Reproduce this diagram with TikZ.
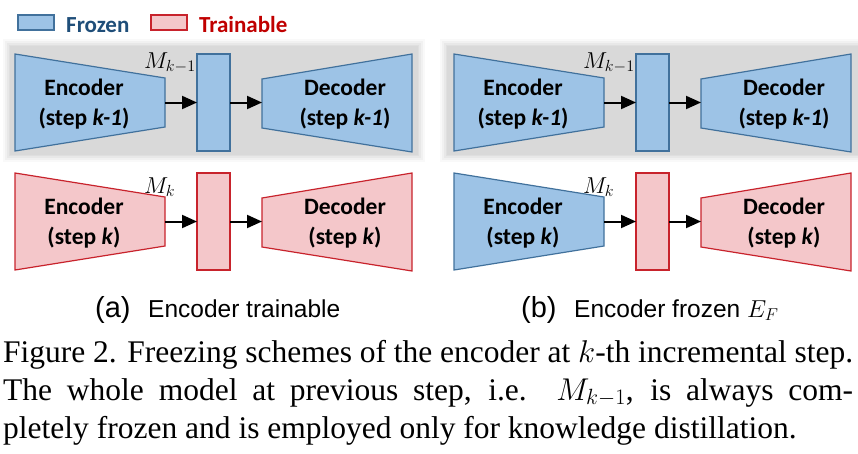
\RequirePackage{fix-cm}
\documentclass[tikz,border=0pt]{standalone}
\usepackage{fontspec}
\setmainfont{Liberation Serif}
\newfontfamily\calibri{Carlito}
\newfontfamily\helv{Liberation Sans}
\usetikzlibrary{arrows.meta}
\definecolor{frzfill}{HTML}{9DC3E6}
\definecolor{frzline}{HTML}{41719C}
\definecolor{trnfill}{HTML}{F4C7CA}
\definecolor{trnline}{HTML}{C8232C}
\definecolor{frztext}{HTML}{1F4E79}
\definecolor{trntext}{HTML}{C00000}
\definecolor{panelgray}{HTML}{D9D9D9}

\begin{document}
\begin{tikzpicture}[x=1pt,y=-1pt,
    frozen/.style={draw=frzline,fill=frzfill,line width=1.2pt},
    trainable/.style={draw=trnline,fill=trnfill,line width=1.2pt},
    midbox/.style={minimum width=33pt,minimum height=97pt,inner sep=0pt,outer sep=0pt,anchor=north west},
    keybox/.style={minimum width=36pt,minimum height=15pt,inner sep=0pt},
    feat/.style={line width=2pt,-{Triangle[length=15pt,width=13pt]}},
    blocktext/.style={font=\calibri\bfseries\fontsize{23.5}{30}\selectfont,align=center,inner sep=0pt},
    keytext/.style={font=\calibri\bfseries\fontsize{23}{25}\selectfont,anchor=base west,inner sep=0pt},
    mlabel/.style={font=\fontsize{23}{23}\selectfont,anchor=base west,inner sep=0pt},
    captext/.style={font=\fontsize{31.5}{38}\selectfont,anchor=base west,inner sep=0pt}]

    \useasboundingbox (0,0) rectangle (858,453);

    % legend
    \node[frozen,keybox] (keyF) at (36,22.5) {};
    \node[keytext,text=frztext] (keyFtext) at (66,32) {Frozen};
    \node[trainable,keybox] (keyT) at (169,22.5) {};
    \node[keytext,text=trntext] (keyTtext) at (199,32) {Trainable};

    % gray panels of the model at step k-1
    \foreach \d/\op in {7/0.15,5/0.25,3/0.4,1/0.6,0/1} {
        \fill[panelgray,opacity=\op] (10-\d,46-\d) rectangle (418+\d,155+\d);
        \fill[panelgray,opacity=\op] (447-\d,46-\d) rectangle (858,155+\d);
    }

    % (a) step k-1
    \begin{scope}
        \draw[frozen] (15,54) -- (165,78) -- (165,127) -- (15,151) -- cycle;
        \node[frozen,midbox] (midA1) at (197,54) {};
        \draw[frozen] (262,79) -- (412,54) -- (412,152) -- (262,128) -- cycle;
        \coordinate (encA1) at (165,102.5);
        \coordinate (decA1) at (262,102.5);
        \draw[feat] (encA1) -- (midA1);
        \draw[feat] (midA1) -- (decA1);
        \node[blocktext] (encTextA1) at (84,104) {Encoder\\(step \textit{k-1})};
        \node[blocktext] (decTextA1) at (345,104) {Decoder\\(step \textit{k-1})};
        \node[mlabel] (mA1) at (144,68) {$M_{k-1}$};
    \end{scope}

    % (a) step k
    \begin{scope}[shift={(0,119)}]
        \draw[trainable] (15,54) -- (165,78) -- (165,127) -- (15,151) -- cycle;
        \node[trainable,midbox] (midA2) at (197,54) {};
        \draw[trainable] (262,79) -- (412,54) -- (412,152) -- (262,128) -- cycle;
        \coordinate (encA2) at (165,102.5);
        \coordinate (decA2) at (262,102.5);
        \draw[feat] (encA2) -- (midA2);
        \draw[feat] (midA2) -- (decA2);
        \node[blocktext] (encTextA2) at (84,104) {Encoder\\(step \textit{k})};
        \node[blocktext] (decTextA2) at (345,104) {Decoder\\(step \textit{k})};
        \node[mlabel] (mA2) at (144,74) {$M_{k}$};
    \end{scope}

    % (b) step k-1
    \begin{scope}[shift={(439,0)}]
        \draw[frozen] (15,54) -- (165,78) -- (165,127) -- (15,151) -- cycle;
        \node[frozen,midbox] (midB1) at (197,54) {};
        \draw[frozen] (262,79) -- (412,54) -- (412,152) -- (262,128) -- cycle;
        \coordinate (encB1) at (165,102.5);
        \coordinate (decB1) at (262,102.5);
        \draw[feat] (encB1) -- (midB1);
        \draw[feat] (midB1) -- (decB1);
        \node[blocktext] (encTextB1) at (84,104) {Encoder\\(step \textit{k-1})};
        \node[blocktext] (decTextB1) at (345,104) {Decoder\\(step \textit{k-1})};
        \node[mlabel] (mB1) at (144,68) {$M_{k-1}$};
    \end{scope}

    % (b) step k
    \begin{scope}[shift={(439,119)}]
        \draw[frozen] (15,54) -- (165,78) -- (165,127) -- (15,151) -- cycle;
        \node[trainable,midbox] (midB2) at (197,54) {};
        \draw[trainable] (262,79) -- (412,54) -- (412,152) -- (262,128) -- cycle;
        \coordinate (encB2) at (165,102.5);
        \coordinate (decB2) at (262,102.5);
        \draw[feat] (encB2) -- (midB2);
        \draw[feat] (midB2) -- (decB2);
        \node[blocktext] (encTextB2) at (84,104) {Encoder\\(step \textit{k})};
        \node[blocktext] (decTextB2) at (345,104) {Decoder\\(step \textit{k})};
        \node[mlabel] (mB2) at (144,74) {$M_{k}$};
    \end{scope}

    % sub-captions
    \node[anchor=base west,inner sep=0pt,font=\helv\fontsize{29}{30}\selectfont] (subA) at (95,317) {(a)};
    \node[anchor=base west,inner sep=0pt,font=\helv\fontsize{24.5}{26}\selectfont] (subAtext) at (148,317) {Encoder trainable};
    \node[anchor=base west,inner sep=0pt,font=\helv\fontsize{29}{30}\selectfont] (subB) at (521,317) {(b)};
    \node[anchor=base west,inner sep=0pt,font=\helv\fontsize{24.5}{26}\selectfont] (subBtext) at (574,317) {Encoder frozen $E_F$};

    % figure caption
    \node[captext] (cap1) at (3,362) {\makebox[850pt][s]{Figure 2. Freezing schemes of the encoder at $k$-th incremental step.}};
    \node[captext] (cap2) at (3,400) {\makebox[850pt][s]{The whole model at previous step, i.e.\ \ $M_{k-1}$, is always com-}};
    \node[captext] (cap3) at (3,438) {pletely frozen and is employed only for knowledge distillation.};
\end{tikzpicture}
\end{document}
